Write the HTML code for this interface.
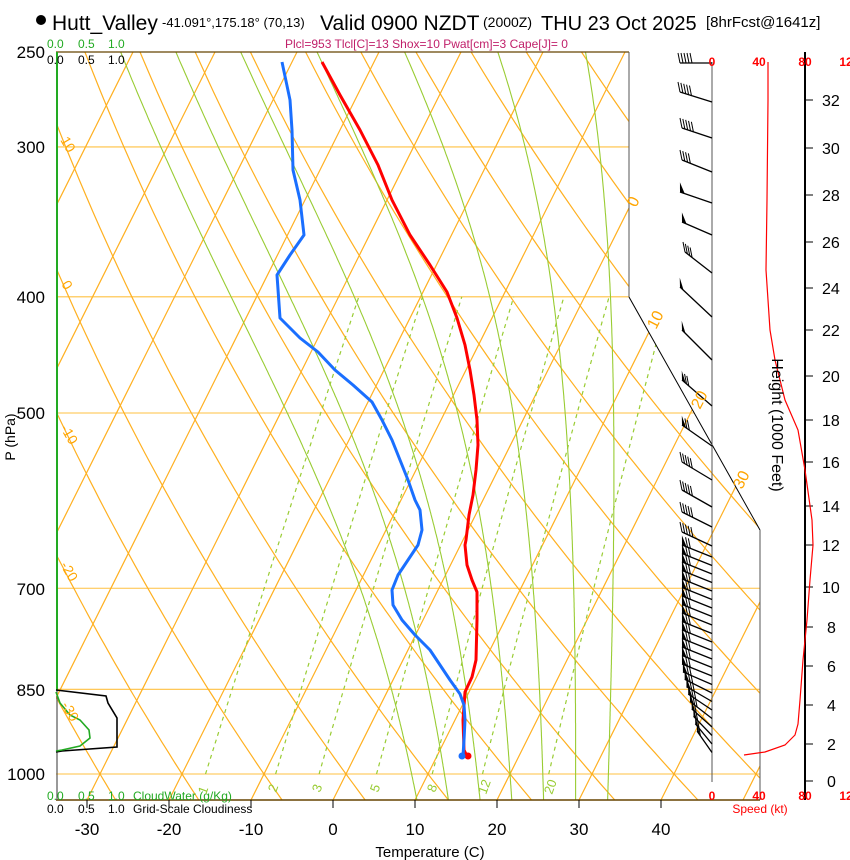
<!DOCTYPE html>
<html><head><meta charset="utf-8"><style>
html,body{margin:0;padding:0;background:#fff;}
svg{display:block;font-family:"Liberation Sans",sans-serif;}
</style></head><body>
<svg id="s" width="850" height="860" viewBox="0 0 850 860" xmlns="http://www.w3.org/2000/svg">
<defs><clipPath id="cp"><polygon points="56,52 629,52 629,297 760,530 760,800 56,800"/></clipPath></defs>
<g id="grid" clip-path="url(#cp)"></g>
<g id="over"></g>
<!-- header -->
<circle cx="41" cy="20" r="5" fill="#000"/>
<text x="52" y="30" font-size="21">Hutt_Valley</text>
<text x="162" y="27" font-size="13">-41.091°,175.18° (70,13)</text>
<text x="320" y="30" font-size="21">Valid 0900 NZDT</text>
<text x="483" y="27" font-size="14">(2000Z)</text>
<text x="541" y="30" font-size="20">THU 23 Oct 2025</text>
<text x="706" y="27" font-size="15">[8hrFcst@1641z]</text>
<text x="285" y="48" font-size="12" fill="#c0206a">Plcl=953 Tlcl[C]=13 Shox=10 Pwat[cm]=3 Cape[J]= 0</text>
<g font-size="12" fill="#22aa22"><text x="47" y="48">0.0</text><text x="78" y="48">0.5</text><text x="108" y="48">1.0</text></g>
<g font-size="12" fill="#000"><text x="47" y="64">0.0</text><text x="78" y="64">0.5</text><text x="108" y="64">1.0</text></g>
<!-- pressure labels -->
<g font-size="17" text-anchor="end">
<text x="45" y="58">250</text><text x="45" y="153">300</text><text x="45" y="303">400</text><text x="45" y="419">500</text><text x="45" y="595">700</text><text x="45" y="696">850</text><text x="45" y="780">1000</text>
</g>
<text transform="translate(15,437) rotate(-90)" font-size="14" text-anchor="middle">P (hPa)</text>
<!-- bottom -->
<g font-size="12" fill="#22aa22"><text x="47" y="800">0.0</text><text x="78" y="800">0.5</text><text x="108" y="800">1.0</text><text x="133" y="800">CloudWater (g/Kg)</text></g>
<g font-size="12" fill="#000"><text x="47" y="813">0.0</text><text x="78" y="813">0.5</text><text x="108" y="813">1.0</text><text x="133" y="813">Grid-Scale Cloudiness</text></g>
<g font-size="17" text-anchor="middle">
<text x="87" y="835">-30</text><text x="169" y="835">-20</text><text x="251" y="835">-10</text><text x="333" y="835">0</text><text x="415" y="835">10</text><text x="497" y="835">20</text><text x="579" y="835">30</text><text x="661" y="835">40</text>
</g>
<text x="430" y="857" font-size="15" text-anchor="middle">Temperature (C)</text>
<!-- theta labels -->
<g font-size="14" fill="#ffa500">
<text transform="translate(60,140) rotate(60)">10</text>
<text transform="translate(61,284) rotate(60)">0</text>
<text transform="translate(60,428) rotate(60)">-10</text>
<text transform="translate(60,565) rotate(60)">-20</text>
<text transform="translate(61,705) rotate(60)">-30</text>
<text transform="translate(636,208) rotate(-63)" font-size="16">0</text>
<text transform="translate(656,330) rotate(-63)" font-size="16">10</text>
<text transform="translate(700,410) rotate(-63)" font-size="16">20</text>
<text transform="translate(742,490) rotate(-63)" font-size="16">30</text>
</g>
<g font-size="13" fill="#99cc33">
<text transform="translate(206,795) rotate(-70)">1</text>
<text transform="translate(276,793) rotate(-70)">2</text>
<text transform="translate(320,793) rotate(-70)">3</text>
<text transform="translate(378,793) rotate(-70)">5</text>
<text transform="translate(435,793) rotate(-70)">8</text>
<text transform="translate(486,795) rotate(-70)">12</text>
<text transform="translate(552,795) rotate(-70)">20</text>
</g>
<!-- speed labels -->
<g font-size="12" font-weight="bold" fill="#ff0000" text-anchor="middle">
<text x="712" y="66">0</text><text x="759" y="66">40</text><text x="805" y="66">80</text><text x="846" y="66">12</text>
<text x="712" y="800">0</text><text x="759" y="800">40</text><text x="805" y="800">80</text><text x="846" y="800">12</text>
</g>
<text x="760" y="813" font-size="12" fill="#ff0000" text-anchor="middle">Speed (kt)</text>
<text transform="translate(772,425) rotate(90)" font-size="16" text-anchor="middle">Height (1000 Feet)</text>
<g font-size="16">
<text x="822" y="106">32</text><text x="822" y="154">30</text><text x="822" y="201">28</text><text x="822" y="248">26</text><text x="822" y="294">24</text><text x="822" y="336">22</text><text x="822" y="382">20</text><text x="822" y="426">18</text><text x="822" y="468">16</text><text x="822" y="512">14</text><text x="822" y="551">12</text><text x="822" y="593">10</text><text x="827" y="633">8</text><text x="827" y="672">6</text><text x="827" y="711">4</text><text x="827" y="750">2</text><text x="827" y="787">0</text>
</g>
</svg>
<script>
(function(){
var NS="http://www.w3.org/2000/svg";
var grid=document.getElementById('grid'), over=document.getElementById('over');
function el(parent,tag,attrs){var e=document.createElementNS(NS,tag);for(var k in attrs)e.setAttribute(k,attrs[k]);parent.appendChild(e);return e;}
function P2Y(p){return 774-520.8*Math.log(1000/p);}
function TX(T,y){return 333+8.2*T+0.5*(800-y);}
function pl(parent,pts,attrs){var s=pts.map(function(q){return q[0].toFixed(1)+','+q[1].toFixed(1);}).join(' ');attrs.points=s;attrs.fill='none';return el(parent,'polyline',attrs);}
[300,400,500,700,850,1000].forEach(function(p){var y=P2Y(p);el(grid,'line',{x1:56,y1:y,x2:760,y2:y,stroke:'#ffc040','stroke-width':1.1});});
for(var T=-120;T<=60;T+=10){el(grid,'line',{x1:TX(T,800),y1:800,x2:TX(T,52),y2:52,stroke:'#ffb020','stroke-width':1.2});}
for(var th=-40;th<=180;th+=10){var pts=[];for(var p=1060;p>=240;p-=10){var y=P2Y(p);var t=(th+273.15)*Math.pow(p/1000,0.2857)-273.15;pts.push([TX(t,y),y]);}pl(grid,pts,{stroke:'#ffb020','stroke-width':1.2});}
[1,2,3,5,8,12,20].forEach(function(w){var pts=[];for(var p=1000;p>=400;p-=10){var e=p*w/(622+w);var l=Math.log(e/6.112);var td=243.5*l/(17.67-l);var y=P2Y(p);pts.push([TX(td,y),y]);}pl(grid,pts,{stroke:'#99cc33','stroke-width':1.2,'stroke-dasharray':'4,4'});});
function dTdp(Tk,p){var Tc=Tk-273.15;var es=6.112*Math.exp(17.67*Tc/(Tc+243.5));var rs=0.622*es/(p-es);var Rd=287,cp=1005,L=2.5e6;return (Rd*Tk+L*rs)/(p*(cp+L*L*rs*0.622/(Rd*Tk*Tk)));}
for(var tw=8;tw<=32;tw+=4){var up=[],Tk=tw+273.15,p;for(p=1000;p>=250;p-=2){var y=P2Y(p);up.push([TX(Tk-273.15,y),y]);Tk-=dTdp(Tk,p)*2;}
var dn=[];Tk=tw+273.15;for(p=1000;p<=1052;p+=2){var y2=P2Y(p);dn.unshift([TX(Tk-273.15,y2),y2]);Tk+=dTdp(Tk,p)*2;}
pl(grid,dn.concat(up),{stroke:'#99cc33','stroke-width':1.1});}
el(over,'line',{x1:56,y1:52,x2:629,y2:52,stroke:'#664400','stroke-width':1.2});
el(over,'line',{x1:629,y1:52,x2:629,y2:297,stroke:'#555','stroke-width':1});
el(over,'line',{x1:629,y1:297,x2:760,y2:530,stroke:'#000','stroke-width':1});
el(over,'line',{x1:760,y1:530,x2:760,y2:800,stroke:'#555','stroke-width':1});
el(over,'line',{x1:56,y1:800,x2:760,y2:800,stroke:'#664400','stroke-width':1.5});
[87,169,251,333,415,497,579,661].forEach(function(x){el(over,'line',{x1:x,y1:800,x2:x,y2:808,stroke:'#000','stroke-width':1});});
el(over,'line',{x1:57,y1:52,x2:57,y2:690,stroke:'#22aa22','stroke-width':2});
el(over,'line',{x1:57,y1:690,x2:57,y2:800,stroke:'#555','stroke-width':1.2});
pl(over,[[56,690],[106,696],[108,703],[117,718],[117,747],[62,751],[56,752]],{stroke:'#000','stroke-width':1.6});
pl(over,[[56,692],[60,703],[70,715],[80,720],[89,730],[90,738],[80,746],[62,750],[56,751]],{stroke:'#22aa22','stroke-width':1.6});
var red=[[322,62],[340,95],[360,130],[378,165],[392,200],[410,235],[430,265],[447,292],[457,318],[465,345],[470,370],[474,395],[477,420],[478,445],[476,470],[473,495],[469,515],[466,540],[465,545],[467,565],[472,580],[477,592],[477,620],[476,660],[472,677],[465,692],[463,720],[464,750],[467,756]];
var blue=[[282,62],[290,100],[292,130],[293,170],[300,200],[304,235],[290,255],[277,275],[280,318],[300,338],[318,352],[335,370],[353,385],[372,402],[382,420],[392,440],[400,460],[408,480],[415,500],[420,510],[422,530],[418,545],[408,560],[398,575],[392,590],[393,605],[402,620],[415,635],[430,650],[440,665],[450,680],[460,694],[464,705],[465,720],[464,740],[463,756]];
pl(over,red,{stroke:'#ff0000','stroke-width':3,'stroke-linejoin':'round'});
pl(over,blue,{stroke:'#1a6fff','stroke-width':3,'stroke-linejoin':'round'});
el(over,'circle',{cx:468,cy:756,r:3.5,fill:'#ff0000'});
el(over,'circle',{cx:462,cy:756,r:3.5,fill:'#1a6fff'});
el(over,'line',{x1:712,y1:62,x2:712,y2:782,stroke:'#555','stroke-width':1});
el(over,'line',{x1:805,y1:52,x2:805,y2:800,stroke:'#000','stroke-width':2});
[100,148,195,242,288,330,376,420,462,506,545,587,627,666,705,744,781].forEach(function(y){el(over,'line',{x1:805,y1:y,x2:813,y2:y,stroke:'#000','stroke-width':1});});
pl(over,[[744,755],[765,752],[785,745],[795,735],[798,724],[800,700],[803,660],[807,620],[810,580],[813,545],[812,520],[805,470],[798,430],[785,400],[775,360],[770,330],[768,300],[766,270],[767,200],[768,100],[768,62]],{stroke:'#ff0000','stroke-width':1.2});
function barb(yb,tx,ty,flag,nf){var bx=712;el(over,'line',{x1:bx,y1:yb,x2:tx,y2:ty,stroke:'#000','stroke-width':1.3});
var dx=bx-tx,dy=yb-ty,L=Math.sqrt(dx*dx+dy*dy),ux=dx/L,uy=dy/L;var pos=0;
if(flag){el(over,'polygon',{points:tx+','+ty+' '+(tx+ux*5)+','+(ty+uy*5)+' '+(tx+ux*1-1)+','+(ty+uy*1-10),fill:'#000'});pos=6;}
for(var i=0;i<nf;i++){var px=tx+ux*(pos+i*3),py=ty+uy*(pos+i*3);el(over,'line',{x1:px,y1:py,x2:px-2,y2:py-10,stroke:'#000','stroke-width':1});}}
var up=[[63,680,63,0,5],[102,680,92,0,5],[138,682,128,0,5],[172,682,160,0,4],[203,680,192,1,0],[235,682,222,1,0],[273,685,252,0,4],[317,680,287,1,0],[360,682,330,1,0],[406,682,380,1,2],[446,682,425,1,2],[480,682,462,0,5],[507,682,490,0,5],[527,682,512,0,5],[546,682,532,0,5]];
up.forEach(function(b){barb(b[0],b[1],b[2],b[3],b[4]);});
for(var yb=557;yb<=757;yb+=8.5){var f=Math.max(0,(yb-680)/77);var tx=682+f*16;var ty=yb-12-f*10;barb(yb,tx,ty,1,f>0.5?1:2);}
})();
</script>
</body></html>
